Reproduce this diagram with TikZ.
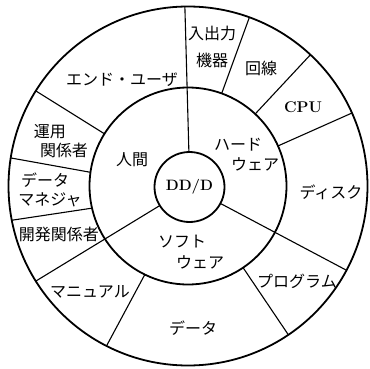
\documentclass[tikz,border=0pt]{standalone}
\usepackage{fontspec}
\newfontfamily\jp{Noto Sans CJK JP}
\begin{document}
\begin{tikzpicture}[x=1pt,y=1pt,
  ring/.style={circle,draw,line width=1.8pt,inner sep=0pt,outer sep=0pt},
  divider/.style={line width=1.1pt},
  lbl/.style={inner sep=0pt,font=\jp\fontsize{16}{19}\selectfont},
  latin/.style={inner sep=0pt,font=\fontsize{15.5}{18}\selectfont\bfseries}]
\useasboundingbox (0,0) rectangle (370,368);
\coordinate (C) at (188,182);
\node[ring,minimum size=359pt] (outer) at (C) {};
\node[ring,minimum size=197pt] (mid) at (C) {};
\node[ring,minimum size=70pt,font=\fontsize{15}{18}\selectfont\bfseries] (inner) at (189.5,181) {DD/D};
% main dividers (inner circle to outer circle)
\draw[divider] (inner.91) -- (outer.91);
\draw[divider] (inner.212.5) -- (outer.212.5);
\draw[divider] (inner.-28.5) -- (outer.-28.5);
% outer ring dividers
\draw[divider] (mid.70) -- (outer.70.5);
\draw[divider] (mid.47) -- (outer.47.3);
\draw[divider] (mid.24.6) -- (outer.24.2);
\draw[divider] (mid.-56) -- (outer.-56.5);
\draw[divider] (mid.244.7) -- (outer.243.3);
\draw[divider] (mid.193.3) -- (outer.191.9);
\draw[divider] (mid.172.3) -- (outer.171.9);
\draw[divider] (mid.148.1) -- (outer.148.4);
% labels, outer ring
\node[lbl] (enduser) at (122,288) {エンド・ユーザ};
\node[lbl] (io1) at (212,335) {入出力};
\node[lbl] (io2) at (212,308) {機器};
\node[lbl] (line) at (261,300) {回線};
\node[latin] (cpu) at (303,261) {CPU};
\node[lbl] (disk) at (331,176) {ディスク};
\node[lbl] (prog) at (297,87) {プログラム};
\node[lbl] (data) at (193,40) {データ};
\node[lbl] (manual) at (90,76) {マニュアル};
\node[lbl] (dev) at (59,134) {開発関係者};
\node[lbl] (dm1) at (45,188) {データ};
\node[lbl] (dm2) at (50,168) {マネジャ};
\node[lbl] (op1) at (50,236) {運用};
\node[lbl] (op2) at (64,218) {関係者};
% labels, middle ring
\node[lbl] (hw1) at (238,223) {ハード};
\node[lbl] (hw2) at (255,204) {ウェア};
\node[lbl] (human) at (132,208) {人間};
\node[lbl] (sw1) at (182,126) {ソフト};
\node[lbl] (sw2) at (200,106) {ウェア};
\end{tikzpicture}
\end{document}
